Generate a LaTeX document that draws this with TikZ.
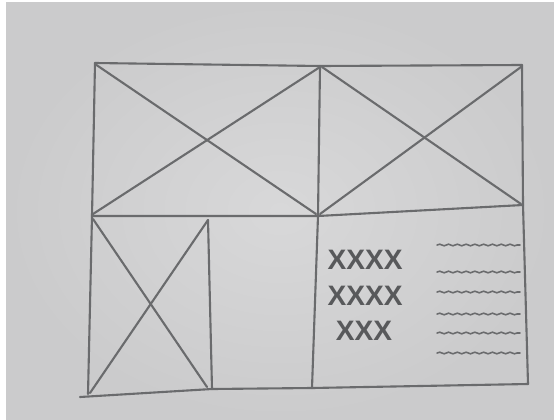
\documentclass[tikz,border=0pt]{standalone}
\usepackage{fontspec}
\newfontfamily\sketchfont{Liberation Sans}
\usepackage{tikz}
\usetikzlibrary{decorations.pathmorphing}
\definecolor{photo}{HTML}{D8D8D9}
\definecolor{photodark}{HTML}{CBCBCC}
\definecolor{pencil}{HTML}{6A6B6D}
\definecolor{pencildark}{HTML}{58595B}

\begin{document}
\begin{tikzpicture}[x=0.02cm, y=-0.02cm, line cap=round, line join=round]
    \useasboundingbox (0,0) rectangle (554,419);
    \fill[white] (0,0) rectangle (554,419);
    \shade[inner color=photo, outer color=photodark] (6,2) rectangle (554,419);
    \tikzset{pen/.style={pencil, line width=1.2pt},
             xmark/.style={pencildark, font=\sketchfont\bfseries\fontsize{16}{16}\selectfont},
             wavy/.style={pen, line width=0.9pt, decorate,
                          decoration={snake, segment length=5pt, amplitude=0.45pt}}}
    \draw[pen] (95,63) -- (320,66) -- (522,65);
    \draw[pen] (95,63) -- (92,216) -- (88,394);
    \draw[pen] (522,65) -- (523,205) -- (528,384);
    \draw[pen] (92,216) -- (318,216) -- (523,205);
    \draw[pen] (80,397) -- (212,389) -- (312,388) -- (528,384);
    \draw[pen] (320,66) -- (318,216) -- (312,388);
    \draw[pen] (208,220) -- (212,389);
    \draw[pen] (95,64) -- (316,214);
    \draw[pen] (93,214) -- (320,67);
    \draw[pen] (322,67) -- (521,204);
    \draw[pen] (320,214) -- (521,67);
    \draw[pen] (93,219) -- (207,387);
    \draw[pen] (208,220) -- (90,393);
    \node[xmark] (xrowa) at (365,260) {XXXX};
    \node[xmark] (xrowb) at (365,296) {XXXX};
    \node[xmark] (xrowc) at (364,331) {XXX};
    \foreach \yy in {245,272,292,314,333,353}
        \draw[wavy] (437,\yy) -- (520,\yy);
\end{tikzpicture}
\end{document}
